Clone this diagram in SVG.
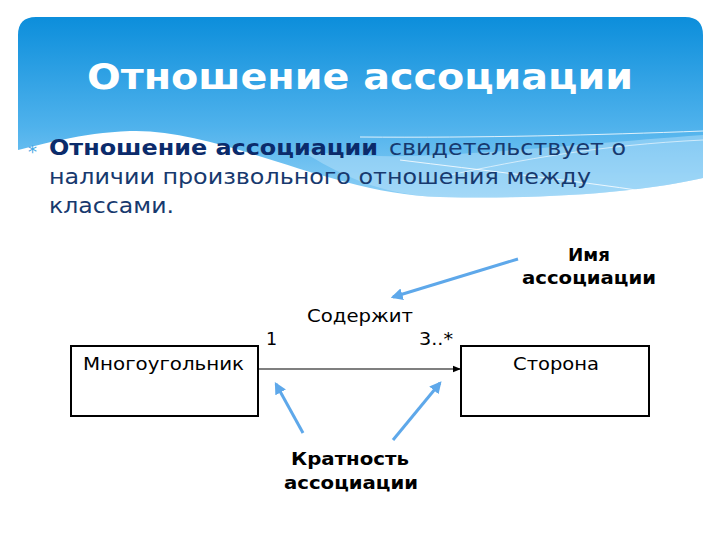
<svg xmlns="http://www.w3.org/2000/svg" width="720" height="540" viewBox="0 0 720 540">
  <defs>
    <linearGradient id="sky" x1="0" y1="17" x2="0" y2="200" gradientUnits="userSpaceOnUse">
      <stop offset="0" stop-color="#0c8edb"/>
      <stop offset="0.6" stop-color="#4fb2ec"/>
      <stop offset="1" stop-color="#8fd0f6"/>
    </linearGradient>
    <marker id="blueHead" viewBox="0 0 10 10" refX="8" refY="5" markerWidth="4" markerHeight="4" orient="auto" markerUnits="strokeWidth">
      <path d="M0,0 L10,5 L0,10 Z" fill="#5ea8ea"/>
    </marker>
    <marker id="blackHead" viewBox="0 0 10 10" refX="10" refY="5" markerWidth="8" markerHeight="8" orient="auto" markerUnits="userSpaceOnUse">
      <path d="M0,1 L10,5 L0,9 Z" fill="#000"/>
    </marker>
    <style>
      .title { font-family: "DejaVu Sans", sans-serif; font-weight: bold; font-size: 35px; fill: #ffffff; }
      .body { font-family: "DejaVu Sans", sans-serif; font-size: 21.5px; fill: #17396e; }
      .bodyb { font-weight: bold; fill: #0b2b6b; }
      .lbl { font-family: "DejaVu Sans", sans-serif; font-size: 17.5px; fill: #000; }
      .lblb { font-family: "DejaVu Sans", sans-serif; font-size: 17px; font-weight: bold; fill: #000; }
      .box { fill: #fff; stroke: #000; stroke-width: 2; }
      .note { stroke: #5ea8ea; stroke-width: 3; fill: none; marker-end: url(#blueHead); }
    </style>
  </defs>

  <rect width="720" height="540" fill="#fff"/>

  <g id="header">
    <path d="M36,17 H685 Q703,17 703,35 V178 C650,190 560,200 440,197 C330,194 220,128 130,131 C80,133 40,145 18,150 V35 Q18,17 36,17 Z" fill="url(#sky)"/>
    <path d="M300,150 C400,165 500,150 703,135 V178 C650,190 560,200 440,197 C380,195 340,175 300,150 Z" fill="#bfe4fa" opacity="0.45"/>
    <path d="M360,137 C480,138 600,135 703,131" stroke="#fff" stroke-width="1" fill="none" opacity="0.8"/>
    <path d="M400,160 C480,170 570,180 650,192" stroke="#fff" stroke-width="1" fill="none" opacity="0.8"/>
    <path d="M450,175 C520,160 600,145 703,140" stroke="#fff" stroke-width="1" fill="none" opacity="0.6"/>
    <text class="title" x="87" y="89" textLength="546" lengthAdjust="spacingAndGlyphs">Отношение ассоциации</text>
  </g>

  <g id="bullet">
    <text x="28" y="158" font-family="DejaVu Sans, sans-serif" font-size="18" fill="#47a8e5">*</text>
    <text class="body" x="49" y="155"><tspan class="bodyb" textLength="329" lengthAdjust="spacingAndGlyphs">Отношение ассоциации</tspan><tspan x="389" textLength="237" lengthAdjust="spacingAndGlyphs">свидетельствует о</tspan></text>
    <text class="body" x="49" y="184" textLength="542" lengthAdjust="spacingAndGlyphs">наличии произвольного отношения между</text>
    <text class="body" x="49" y="213" textLength="125" lengthAdjust="spacingAndGlyphs">классами.</text>
  </g>

  <g id="connectors">
    <line x1="258" y1="369" x2="461" y2="369" stroke="#000" stroke-width="1.2" marker-end="url(#blackHead)"/>
    <line class="note" x1="518" y1="259" x2="393" y2="297"/>
    <line class="note" x1="303" y1="433" x2="276" y2="384"/>
    <line class="note" x1="393" y1="440" x2="440" y2="383"/>
  </g>

  <g id="polygon">
    <rect class="box" x="71" y="346" width="187" height="70"/>
    <text class="lbl" x="83" y="370" textLength="161" lengthAdjust="spacingAndGlyphs">Многоугольник</text>
  </g>

  <g id="side">
    <rect class="box" x="461" y="346" width="188" height="70"/>
    <text class="lbl" x="513" y="370" textLength="86" lengthAdjust="spacingAndGlyphs">Сторона</text>
  </g>

  <g id="labels">
    <text class="lbl" x="307" y="322" textLength="106" lengthAdjust="spacingAndGlyphs">Содержит</text>
    <text class="lbl" x="266" y="345">1</text>
    <text class="lbl" x="419" y="345" textLength="34" lengthAdjust="spacingAndGlyphs">3..*</text>
  </g>

  <g id="name-note">
    <text class="lblb" x="589" y="261" text-anchor="middle" textLength="42" lengthAdjust="spacingAndGlyphs">Имя</text>
    <text class="lblb" x="589" y="284" text-anchor="middle" textLength="134" lengthAdjust="spacingAndGlyphs">ассоциации</text>
  </g>

  <g id="mult-note">
    <text class="lblb" x="350" y="465" text-anchor="middle" textLength="118" lengthAdjust="spacingAndGlyphs">Кратность</text>
    <text class="lblb" x="351" y="489" text-anchor="middle" textLength="134" lengthAdjust="spacingAndGlyphs">ассоциации</text>
  </g>
</svg>
